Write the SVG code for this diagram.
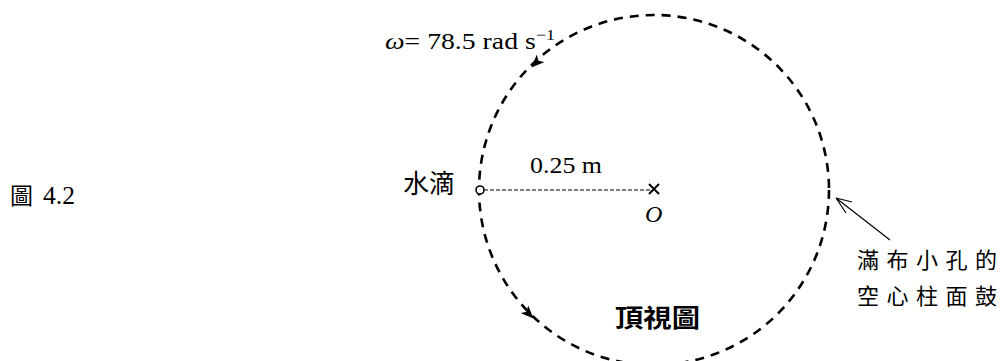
<svg xmlns="http://www.w3.org/2000/svg" width="1003" height="361" viewBox="0 0 1003 361">
<style>
.serif{font-family:"Liberation Serif","Times New Roman",serif;fill:#000}
.cjk{font-family:"Noto Sans CJK TC","Noto Sans CJK SC",sans-serif;fill:#000}
.drum{fill:none;stroke:#000;stroke-width:2.6;stroke-dasharray:9 7}
.thin{stroke:#000;stroke-width:1.2;fill:none}
</style>
<defs>
<marker id="solid" viewBox="0 0 12 10" refX="10" refY="5" markerWidth="13" markerHeight="11" markerUnits="userSpaceOnUse" orient="auto">
<path d="M0,0 L12,5 L0,10 L3,5 Z" fill="#000"/>
</marker>
</defs>
<rect width="1003" height="361" fill="#fff"/>
<g id="figure-label"><text class="cjk" x="10" y="204" font-size="23">圖</text><text class="serif" x="43" y="204" font-size="25" textLength="32" lengthAdjust="spacingAndGlyphs">4.2</text></g>
<g id="drum">
<circle class="drum" cx="654" cy="190" r="175"/>
</g>
<g id="connectors">
<path d="M545,54 L533,66" stroke="none" fill="none" marker-end="url(#solid)"/>
<path d="M520,305 L532,317" stroke="none" fill="none" marker-end="url(#solid)"/>
<line x1="484" y1="190" x2="651" y2="190" class="thin" stroke-dasharray="4 2"/>
<path d="M890,240 L836,198 M836,198 L846,213 M836,198 L852,202" class="thin" stroke-width="1.6"/>
</g>
<g id="water-drop">
<circle cx="480" cy="190" r="4" fill="#fff" stroke="#000" stroke-width="1.6"/>
<text class="cjk" x="403" y="193" font-size="26">水滴</text>
</g>
<g id="center-O">
<path d="M649,184 L659,194 M659,184 L649,194" stroke="#000" stroke-width="2"/>
<text class="serif" x="645" y="222" font-size="24" font-style="italic">O</text>
</g>
<g id="omega-label">
<text class="serif" x="385" y="49" font-size="23" textLength="170" lengthAdjust="spacingAndGlyphs"><tspan font-style="italic">ω</tspan>= 78.5 rad s<tspan dy="-9" font-size="15">−1</tspan></text>
</g>
<g id="radius-label"><text class="serif" x="530" y="173" font-size="24" textLength="72" lengthAdjust="spacingAndGlyphs">0.25 m</text></g>
<g id="top-view"><text class="cjk" x="615" y="327" font-size="25" font-weight="bold" textLength="85" lengthAdjust="spacingAndGlyphs">頂視圖</text></g>
<g id="drum-label">
<text class="cjk" x="857" y="268" font-size="22" letter-spacing="7.5">滿布小孔的</text>
<text class="cjk" x="857" y="304" font-size="22" letter-spacing="7.5">空心柱面鼓</text>
</g>
</svg>
